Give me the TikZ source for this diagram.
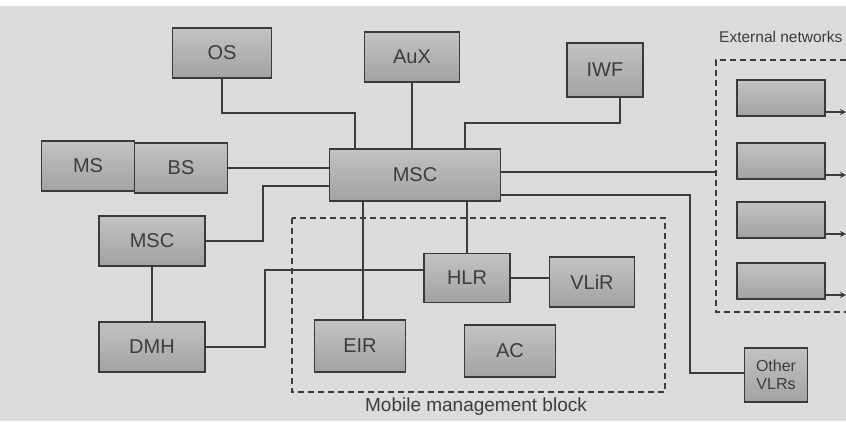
\documentclass[tikz,border=0pt]{standalone}
\usepackage{fontspec}
\setmainfont{Liberation Sans}
\usetikzlibrary{arrows.meta}
\definecolor{bg}{HTML}{DCDCDA}
\definecolor{boxfill}{HTML}{B4B4B2}
\definecolor{boxline}{HTML}{3A3A3A}
\definecolor{ink}{HTML}{3C3C3C}
\tikzset{
  blk/.style={draw=boxline, line width=1.6pt, top color=boxfill!80!white, bottom color=boxfill!90!black,
    minimum width=#1, minimum height=50pt, inner sep=0pt, font=\fontsize{20}{20}\selectfont, text=ink},
  blk/.default=92pt,
  wire/.style={draw=ink, line width=1.7pt},
  dashbox/.style={draw=ink, line width=1.6pt, dash pattern=on 6pt off 4pt},
  lbl/.style={font=\fontsize{19}{19}\selectfont, text=ink, inner sep=0pt}
}
\begin{document}
\begin{tikzpicture}[x=1pt,y=-1pt]
\useasboundingbox (0,0) rectangle (846,421);
\fill[bg] (0,0) rectangle (846,421);
\fill[white] (0,0) rectangle (846,6);
% nodes
\node[blk=99pt] (os) at (222,53) {OS};
\node[blk=95pt] (aux) at (412,57) {AuX};
\node[blk=76pt, minimum height=54pt] (iwf) at (605,70) {IWF};
\node[blk=93pt] (ms) at (88,166) {MS};
\node[blk=93pt] (bs) at (181,168) {BS};
\node[blk=171pt, minimum height=52pt] (msc) at (415,175) {MSC};
\node[blk=106pt] (msc2) at (152,241) {MSC};
\node[blk=106pt] (dmh) at (152,347) {DMH};
\node[blk=86pt, minimum height=49pt] (hlr) at (467,278) {HLR};
\node[blk=85pt, minimum height=50pt] (vlr) at (592,282) {VLiR};
\node[blk=91pt, minimum height=52pt] (eir) at (360,346) {EIR};
\node[blk=91pt, minimum height=52pt] (ac) at (510,351) {AC};
\node[blk=63pt, minimum height=54pt, align=center, font=\fontsize{16}{18}\selectfont] (ovlr) at (776,375) {Other\\VLRs};
% external network boxes
\foreach \i/\y in {1/98, 2/161, 3/220, 4/281}{
  \node[blk=88pt, minimum height=36pt] (ext\i) at (781,\y) {};
}
\coordinate (e1) at (846,112);
\coordinate (e2) at (846,175);
\coordinate (e3) at (846,234);
\coordinate (e4) at (846,295);
% dashed blocks
\draw[dashbox] (292,218) rectangle (665,392);
\node[lbl] (mmb) at (476,407) {Mobile management block};
\draw[dashbox] (846,60) -- (716,60) -- (716,312) -- (846,312);
\node[lbl, font=\fontsize{15.5}{16}\selectfont, anchor=west] (extlbl) at (719,37) {External networks};
% helper coordinates
\coordinate (osb) at (355,113);
\coordinate (iwfb) at (465,123);
\coordinate (mscl) at (329,186);
\coordinate (bend1) at (263,241);
\coordinate (bend2) at (265,270);
\coordinate (hlrl) at (424,270);
\coordinate (mscr1) at (500,172);
\coordinate (extl) at (716,172);
\coordinate (mscr2) at (500,195);
\coordinate (ovl) at (745,373);
% connectors
\draw[wire] (os.south) |- (osb) -- (355,149);
\draw[wire] (aux.south) -- (aux.south |- msc.north);
\draw[wire] (iwf.south -| 620,0) |- (iwfb) -- (465,149);
\draw[wire] (bs.east) -- (bs.east -| msc.west);
\draw[wire] (mscl) -| (bend1) -- (msc2.east);
\draw[wire] (msc2.south) -- (dmh.north);
\draw[wire] (dmh.east) -| (bend2) -- (hlrl);
\draw[wire] (msc.south -| eir.north) ++(3,0) -- ([xshift=3pt]eir.north);
\draw[wire] (msc.south -| hlr.north) -- (hlr.north);
\draw[wire] (hlr.east) -- (vlr.west |- hlr.east);
\draw[wire] (mscr1) -- (extl);
\draw[wire] (mscr2) -| (690,373) -- (ovl);
\foreach \i in {1,...,4}{
  \draw[wire, -{Stealth[length=6pt,width=6pt]}] (ext\i.east |- e\i) -- (e\i);
}
\end{tikzpicture}
\end{document}
